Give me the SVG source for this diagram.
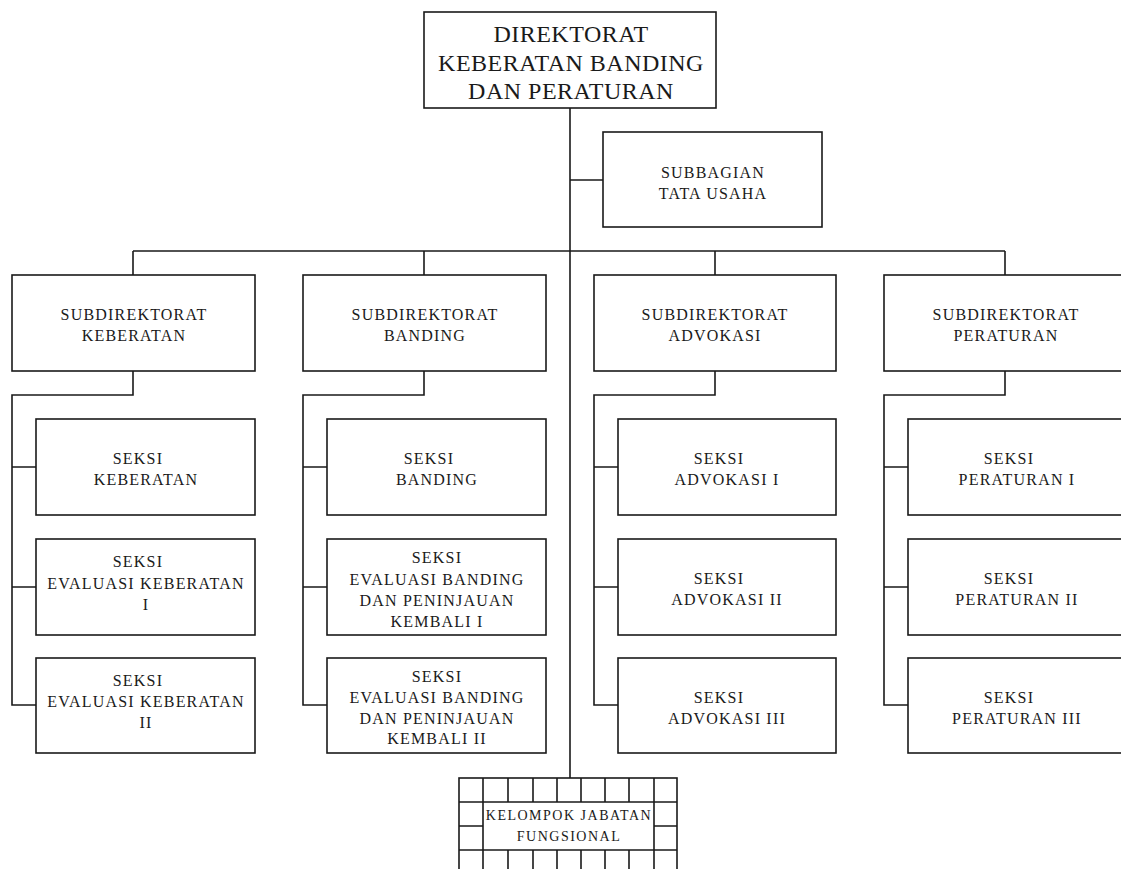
<svg xmlns="http://www.w3.org/2000/svg" width="1121" height="869" viewBox="0 0 1121 869">
<style>
.box{fill:#fff;stroke:#1a1a1a;stroke-width:1.6}
.ln{fill:none;stroke:#1a1a1a;stroke-width:1.6}
.t{font-family:"Liberation Serif","Times New Roman",serif;font-size:16px;letter-spacing:1.2px;fill:#1a1a1a;text-anchor:middle}
.big{font-size:24px;letter-spacing:0.5px}
.sm{font-size:14px;letter-spacing:1.5px}
</style>
<rect width="1121" height="869" fill="#fff"/>
<g id="connectors" class="ln">
<path d="M570,108 V778 M570,180 H603 M133,251 H1005 M133,251 V275 M424,251 V275 M715,251 V275 M1005,251 V275"/>
<path d="M133,371 V395 H12 V705 H36 M12,467 H36 M12,587 H36"/>
<path d="M424,371 V395 H303 V705 H327 M303,467 H327 M303,587 H327"/>
<path d="M715,371 V395 H594 V705 H618 M594,467 H618 M594,587 H618"/>
<path d="M1005,371 V395 H884 V705 H908 M884,467 H908 M884,587 H908"/>
</g>
<g id="direktorat">
<rect class="box" x="424" y="12" width="292" height="96"/>
<text class="t big" x="571" y="42">DIREKTORAT</text>
<text class="t big" x="571" y="71">KEBERATAN BANDING</text>
<text class="t big" x="571" y="99">DAN PERATURAN</text>
</g>
<g id="subbagian">
<rect class="box" x="603" y="132" width="219" height="95"/>
<text class="t" x="713" y="178">SUBBAGIAN</text>
<text class="t" x="713" y="199">TATA USAHA</text>
</g>
<g id="subdir-keberatan">
<rect class="box" x="12" y="275" width="243" height="96"/>
<text class="t" x="134" y="320">SUBDIREKTORAT</text>
<text class="t" x="134" y="341">KEBERATAN</text>
</g>
<g id="subdir-banding">
<rect class="box" x="303" y="275" width="243" height="96"/>
<text class="t" x="425" y="320">SUBDIREKTORAT</text>
<text class="t" x="425" y="341">BANDING</text>
</g>
<g id="subdir-advokasi">
<rect class="box" x="594" y="275" width="242" height="96"/>
<text class="t" x="715" y="320">SUBDIREKTORAT</text>
<text class="t" x="715" y="341">ADVOKASI</text>
</g>
<g id="subdir-peraturan">
<rect class="box" x="884" y="275" width="243" height="96"/>
<text class="t" x="1006" y="320">SUBDIREKTORAT</text>
<text class="t" x="1006" y="341">PERATURAN</text>
</g>
<g id="seksi-keberatan">
<rect class="box" x="36" y="419" width="219" height="96"/>
<text class="t" x="138" y="464">SEKSI</text>
<text class="t" x="146" y="485">KEBERATAN</text>
</g>
<g id="seksi-evaluasi-keberatan-1">
<rect class="box" x="36" y="539" width="219" height="96"/>
<text class="t" x="138" y="567">SEKSI</text>
<text class="t" x="146" y="589">EVALUASI KEBERATAN</text>
<text class="t" x="146" y="610">I</text>
</g>
<g id="seksi-evaluasi-keberatan-2">
<rect class="box" x="36" y="658" width="219" height="95"/>
<text class="t" x="138" y="686">SEKSI</text>
<text class="t" x="146" y="707">EVALUASI KEBERATAN</text>
<text class="t" x="146" y="728">II</text>
</g>
<g id="seksi-banding">
<rect class="box" x="327" y="419" width="219" height="96"/>
<text class="t" x="429" y="464">SEKSI</text>
<text class="t" x="437" y="485">BANDING</text>
</g>
<g id="seksi-evaluasi-banding-1">
<rect class="box" x="327" y="539" width="219" height="96"/>
<text class="t" x="437" y="563">SEKSI</text>
<text class="t" x="437" y="585">EVALUASI BANDING</text>
<text class="t" x="437" y="606">DAN PENINJAUAN</text>
<text class="t" x="437" y="627">KEMBALI I</text>
</g>
<g id="seksi-evaluasi-banding-2">
<rect class="box" x="327" y="658" width="219" height="95"/>
<text class="t" x="437" y="682">SEKSI</text>
<text class="t" x="437" y="703">EVALUASI BANDING</text>
<text class="t" x="437" y="724">DAN PENINJAUAN</text>
<text class="t" x="437" y="744">KEMBALI II</text>
</g>
<g id="seksi-advokasi-1">
<rect class="box" x="618" y="419" width="218" height="96"/>
<text class="t" x="719" y="464">SEKSI</text>
<text class="t" x="727" y="485">ADVOKASI I</text>
</g>
<g id="seksi-advokasi-2">
<rect class="box" x="618" y="539" width="218" height="96"/>
<text class="t" x="719" y="584">SEKSI</text>
<text class="t" x="727" y="605">ADVOKASI II</text>
</g>
<g id="seksi-advokasi-3">
<rect class="box" x="618" y="658" width="218" height="95"/>
<text class="t" x="719" y="703">SEKSI</text>
<text class="t" x="727" y="724">ADVOKASI III</text>
</g>
<g id="seksi-peraturan-1">
<rect class="box" x="908" y="419" width="219" height="96"/>
<text class="t" x="1009" y="464">SEKSI</text>
<text class="t" x="1017" y="485">PERATURAN I</text>
</g>
<g id="seksi-peraturan-2">
<rect class="box" x="908" y="539" width="219" height="96"/>
<text class="t" x="1009" y="584">SEKSI</text>
<text class="t" x="1017" y="605">PERATURAN II</text>
</g>
<g id="seksi-peraturan-3">
<rect class="box" x="908" y="658" width="219" height="95"/>
<text class="t" x="1009" y="703">SEKSI</text>
<text class="t" x="1017" y="724">PERATURAN III</text>
</g>
<g id="kelompok-jabatan-fungsional">
<rect class="box" x="459" y="778" width="218" height="100"/>
<path class="ln" d="M459,802 H677 M459,850 H677 M459,826 H483 M654,826 H677 M483,778 V878 M654,778 V878 M508,778 V802 M533,778 V802 M557,778 V802 M581,778 V802 M605,778 V802 M629,778 V802 M508,850 V878 M533,850 V878 M557,850 V878 M581,850 V878 M605,850 V878 M629,850 V878"/>
<text class="t sm" x="569" y="820">KELOMPOK JABATAN</text>
<text class="t sm" x="569" y="841">FUNGSIONAL</text>
</g>
</svg>
